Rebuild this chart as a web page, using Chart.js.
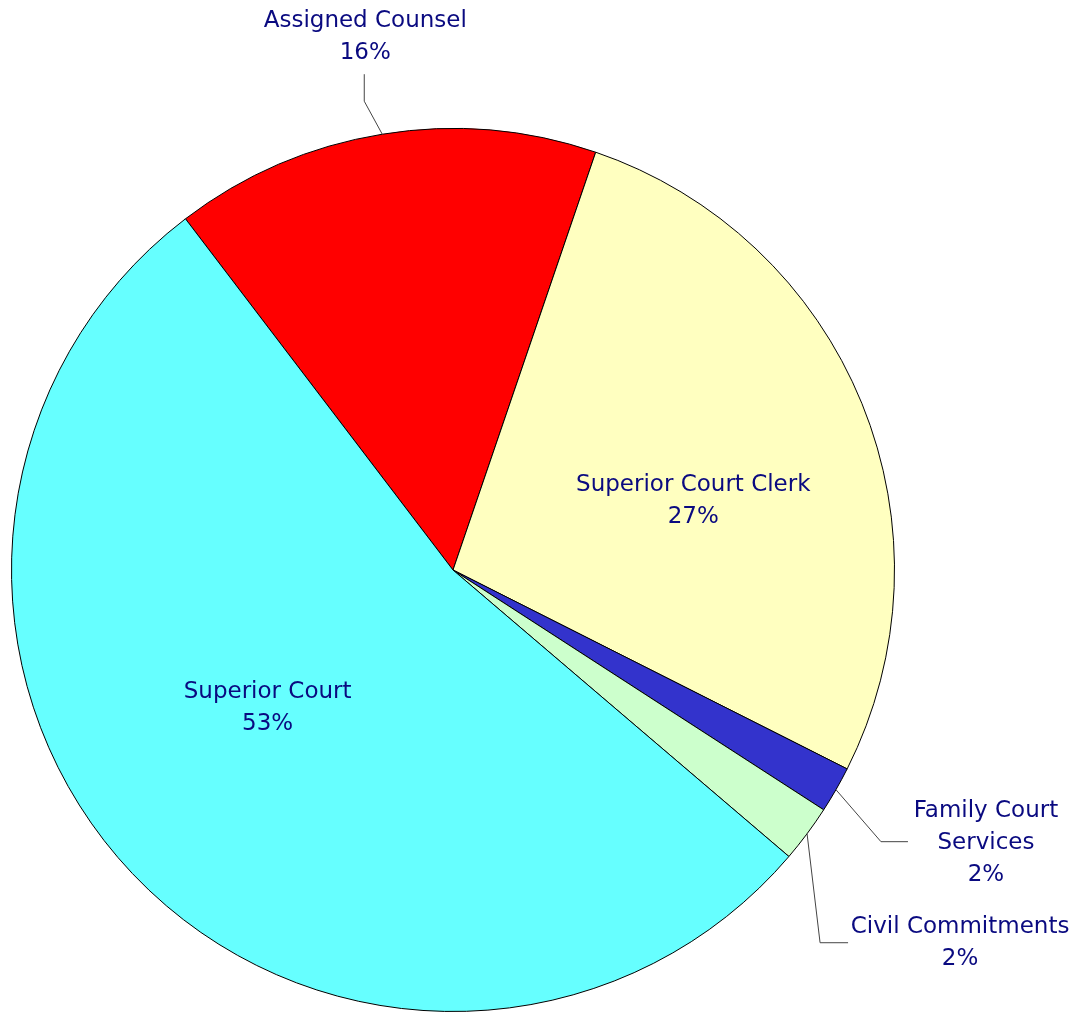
<!DOCTYPE html>
<html>
<head>
<meta charset="utf-8">
<script src="https://cdn.jsdelivr.net/npm/chart.js@4.4.1/dist/chart.umd.min.js"></script>
<style>
  html, body { margin: 0; padding: 0; background: #fff; }
  #pie { display: block; }
</style>
</head>
<body>
<canvas id="pie" width="1077" height="1012"></canvas>
<script>
// slice data, in drawing order (clockwise from Assigned Counsel)
const categories = ['Assigned Counsel', 'Superior Court Clerk', 'Family Court Services', 'Civil Commitments', 'Superior Court'];
const shares = [15.6, 27.2, 1.7, 2.1, 53.4];
const sliceColors = ['#FF0000', '#FFFFC0', '#3333CC', '#CCFFCC', '#66FFFF'];

// how each label is shown: wrapped text lines + placement
const labelLines = [
    ['Assigned Counsel'],
    ['Superior Court Clerk'],
    ['Family Court', 'Services'],
    ['Civil Commitments'],
    ['Superior Court']
];
const labelPlace = [
    { outside: true, elbow: [-18, -33], end: [0, -27], text: [1, -37] },
    { outside: false, frac: 0.6, nudge: [-5, 31] },
    { outside: true, elbow: [45, 52], end: [27, 0], text: [78, 1] },
    { outside: true, elbow: [13, 109], end: [28, 0], text: [112, 0] },
    { outside: false, frac: 0.55, nudge: [-9, -29] }
];

const pieLabels = {
    id: 'pieLabels',
    afterDraw(chart) {
        const c = chart.ctx;
        const meta = chart.getDatasetMeta(0);
        const total = shares.reduce((a, b) => a + b, 0);
        const lineH = 32;
        c.save();
        c.font = '23px "DejaVu Sans"';
        c.textAlign = 'center';
        c.textBaseline = 'middle';
        meta.data.forEach(function(arc, i) {
            const p = arc.getProps(['x', 'y', 'startAngle', 'endAngle', 'outerRadius'], true);
            const mid = (p.startAngle + p.endAngle) / 2;
            const place = labelPlace[i];
            const lines = labelLines[i].concat([Math.round(shares[i] / total * 100) + '%']);
            let tx, ty;
            if (place.outside) {
                const ex = p.x + Math.cos(mid) * p.outerRadius;
                const ey = p.y + Math.sin(mid) * p.outerRadius;
                const bx = ex + place.elbow[0], by = ey + place.elbow[1];
                const fx = bx + place.end[0], fy = by + place.end[1];
                c.strokeStyle = '#444';
                c.lineWidth = 1;
                c.beginPath();
                c.moveTo(ex, ey);
                c.lineTo(bx, by);
                c.lineTo(fx, fy);
                c.stroke();
                tx = fx + place.text[0];
                ty = fy + place.text[1];
            } else {
                tx = p.x + Math.cos(mid) * p.outerRadius * place.frac + place.nudge[0];
                ty = p.y + Math.sin(mid) * p.outerRadius * place.frac + place.nudge[1];
            }
            c.fillStyle = '#0A0A80';
            const top = ty - (lines.length - 1) * lineH / 2;
            lines.forEach(function(t, k) {
                c.fillText(t, tx, top + k * lineH);
            });
        });
        c.restore();
    }
};

const chart = new Chart(document.getElementById('pie').getContext('2d'), {
    type: 'pie',
    data: {
        labels: categories,
        datasets: [{
            data: shares,
            backgroundColor: sliceColors,
            borderColor: '#000',
            borderWidth: 1
        }]
    },
    options: {
        responsive: false,
        animation: false,
        rotation: -37.3,
        layout: { padding: { left: 10, right: 181, top: 128, bottom: 0 } },
        plugins: {
            legend: { display: false },
            tooltip: { enabled: false }
        }
    },
    plugins: [pieLabels]
});
</script>
</body>
</html>
